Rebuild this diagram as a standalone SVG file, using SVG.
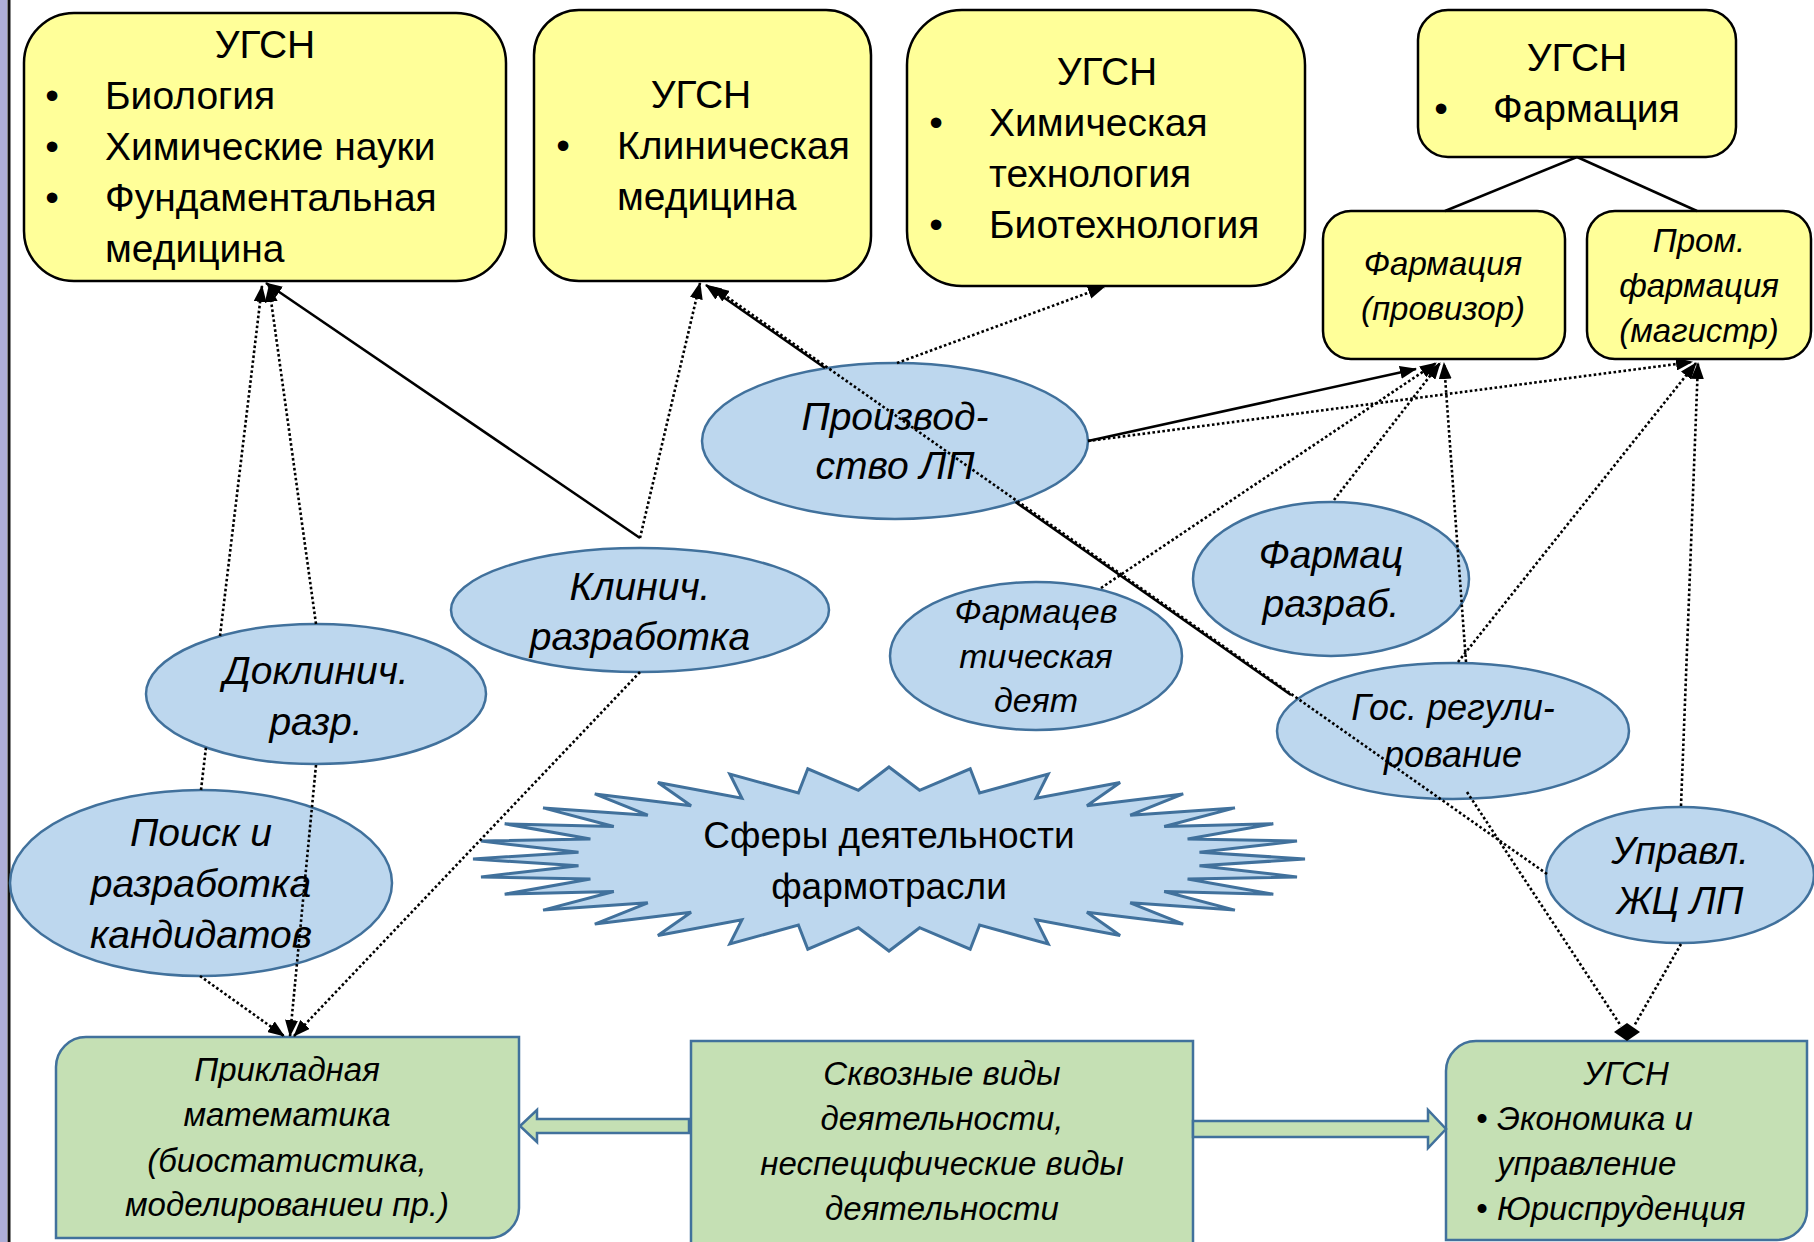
<svg xmlns="http://www.w3.org/2000/svg" width="1814" height="1242" viewBox="0 0 1814 1242">
<defs>
<marker id="arr" viewBox="0 0 17 13" refX="16" refY="6.5" markerWidth="17" markerHeight="13" markerUnits="userSpaceOnUse" orient="auto"><path d="M0,0 L17,6.5 L0,13 Z" fill="#000"/></marker>
<style>
.y{fill:#ffff99;stroke:#000;stroke-width:2.5}
.e{fill:#bdd7ee;stroke:#41719c;stroke-width:2.5}
.g{fill:#c5e0b4;stroke:#41719c;stroke-width:2.5}
text{font-family:"Liberation Sans",Arial,sans-serif;fill:#000}
.r39{font-size:39px}
.r37{font-size:37px}
.i39{font-size:39px;font-style:italic}
.i38{font-size:38px;font-style:italic}
.i36{font-size:36px;font-style:italic}
.i34{font-size:34px;font-style:italic}
.i33{font-size:33px;font-style:italic}
.c{text-anchor:middle}
.sol{stroke:#000;stroke-width:2.5;fill:none}
.dot{stroke:#000;stroke-width:2.6;stroke-dasharray:2.6 2.4;fill:none}
.ar{marker-end:url(#arr)}
</style>
</defs>
<rect x="0" y="0" width="1814" height="1242" fill="#fff"/>
<rect x="0" y="0" width="7" height="1242" fill="#adaed7"/>
<line x1="9" y1="0" x2="9" y2="1242" stroke="#111" stroke-width="3"/>

<g id="ugsn-bio">
<rect class="y" x="24" y="13" width="482" height="268" rx="50"/>
<text class="r39 c" x="265" y="58">УГСН</text>
<text class="r39 c" x="52" y="109">•</text><text class="r39" x="105" y="109">Биология</text>
<text class="r39 c" x="52" y="160">•</text><text class="r39" x="105" y="160">Химические науки</text>
<text class="r39 c" x="52" y="211">•</text><text class="r39" x="105" y="211">Фундаментальная</text>
<text class="r39" x="105" y="262">медицина</text>
</g>

<g id="ugsn-clin">
<rect class="y" x="534" y="10" width="337" height="271" rx="45"/>
<text class="r39 c" x="701" y="108">УГСН</text>
<text class="r39 c" x="563" y="159">•</text><text class="r39" x="617" y="159">Клиническая</text>
<text class="r39" x="617" y="210">медицина</text>
</g>

<g id="ugsn-chem">
<rect class="y" x="907" y="10" width="398" height="276" rx="55"/>
<text class="r39 c" x="1107" y="85">УГСН</text>
<text class="r39 c" x="936" y="136">•</text><text class="r39" x="989" y="136">Химическая</text>
<text class="r39" x="989" y="187">технология</text>
<text class="r39 c" x="936" y="238">•</text><text class="r39" x="989" y="238">Биотехнология</text>
</g>

<g id="ugsn-pharm">
<rect class="y" x="1418" y="10" width="318" height="147" rx="30"/>
<text class="r39 c" x="1577" y="71">УГСН</text>
<text class="r39 c" x="1441" y="122">•</text><text class="r39" x="1493" y="122">Фармация</text>
</g>

<g id="pharm-prov">
<rect class="y" x="1323" y="211" width="242" height="148" rx="28"/>
<text class="i33 c" x="1443" y="275">Фармация</text>
<text class="i33 c" x="1443" y="320">(провизор)</text>
</g>

<g id="pharm-prom">
<rect class="y" x="1587" y="211" width="224" height="148" rx="28"/>
<text class="i33 c" x="1699" y="252">Пром.</text>
<text class="i33 c" x="1699" y="297">фармация</text>
<text class="i33 c" x="1699" y="342">(магистр)</text>
</g>

<g id="center-star">
<polygon fill="#bdd7ee" stroke="#41719c" stroke-width="3" points="889,767 919.6,790.3 970.2,768.8 979.6,793 1048.2,774 1036.1,798.1 1120.1,782.5 1086.9,805.7 1183.2,793.9 1130.2,815.2 1234.9,807.9 1164.2,826.5 1273.3,823.8 1187.6,839 1297,841.1 1199.5,852.2 1305,859 1199.5,865.8 1297,876.9 1187.6,879 1273.3,894.2 1164.2,891.5 1234.9,910.1 1130.2,902.8 1183.2,924.1 1086.9,912.3 1120.1,935.5 1036.1,919.9 1048.2,944 979.6,925 970.2,949.2 919.6,927.7 889,951 858.4,927.7 807.8,949.2 798.4,925 729.8,944 741.9,919.9 657.9,935.5 691.1,912.3 594.8,924.1 647.8,902.8 543.1,910.1 613.8,891.5 504.7,894.2 590.4,879 481,876.9 578.5,865.8 473,859 578.5,852.2 481,841.1 590.4,839 504.7,823.8 613.8,826.5 543.1,807.9 647.8,815.2 594.8,793.9 691.1,805.7 657.9,782.5 741.9,798.1 729.8,774 798.4,793 807.8,768.8 858.4,790.3"/>
<text class="r37 c" x="889" y="848">Сферы деятельности</text>
<text class="r37 c" x="889" y="899">фармотрасли</text>
</g>

<g id="production">
<ellipse class="e" cx="895" cy="441" rx="193" ry="78"/>
<text class="i39 c" x="895" y="430">Производ-</text>
<text class="i39 c" x="895" y="479">ство ЛП</text>
</g>

<g id="clinical">
<ellipse class="e" cx="640" cy="610" rx="189" ry="62"/>
<text class="i39 c" x="640" y="600">Клинич.</text>
<text class="i39 c" x="640" y="650">разработка</text>
</g>

<g id="preclinical">
<ellipse class="e" cx="316" cy="694" rx="170" ry="70"/>
<text class="i39 c" x="316" y="684">Доклинич.</text>
<text class="i39 c" x="316" y="735">разр.</text>
</g>

<g id="search">
<ellipse class="e" cx="201" cy="883" rx="191" ry="93"/>
<text class="i39 c" x="201" y="846">Поиск и</text>
<text class="i39 c" x="201" y="897">разработка</text>
<text class="i39 c" x="201" y="948">кандидатов</text>
</g>

<g id="pharm-activity">
<ellipse class="e" cx="1036" cy="656" rx="146" ry="74"/>
<text class="i34 c" x="1036" y="623">Фармацев</text>
<text class="i34 c" x="1036" y="668">тическая</text>
<text class="i34 c" x="1036" y="712">деят</text>
</g>

<g id="pharm-dev">
<ellipse class="e" cx="1331" cy="579" rx="138" ry="77"/>
<text class="i39 c" x="1331" y="568">Фармац</text>
<text class="i39 c" x="1331" y="617">разраб.</text>
</g>

<g id="state-reg">
<ellipse class="e" cx="1453" cy="731" rx="176" ry="68"/>
<text class="i36 c" x="1453" y="720">Гос. регули-</text>
<text class="i36 c" x="1453" y="767">рование</text>
</g>

<g id="lifecycle">
<ellipse class="e" cx="1680" cy="875" rx="134" ry="68"/>
<text class="i38 c" x="1680" y="864">Управл.</text>
<text class="i38 c" x="1680" y="914">ЖЦ ЛП</text>
</g>

<g id="applied-math">
<path class="g" d="M86,1037 H519 V1208 A30,30 0 0 1 489,1238 H56 V1067 A30,30 0 0 1 86,1037 Z"/>
<text class="i33 c" x="287" y="1081">Прикладная</text>
<text class="i33 c" x="287" y="1126">математика</text>
<text class="i33 c" x="287" y="1172">(биостатистика,</text>
<text class="i33 c" x="287" y="1216">моделированиеи пр.)</text>
</g>

<g id="cross-cutting">
<rect class="g" x="691" y="1041" width="502" height="215"/>
<text class="i33 c" x="942" y="1085">Сквозные виды</text>
<text class="i33 c" x="942" y="1130">деятельности,</text>
<text class="i33 c" x="942" y="1175">неспецифические виды</text>
<text class="i33 c" x="942" y="1220">деятельности</text>
</g>

<g id="ugsn-econ">
<path class="g" d="M1476,1041 H1807 V1210 A30,30 0 0 1 1777,1240 H1446 V1071 A30,30 0 0 1 1476,1041 Z"/>
<text class="i33 c" x="1626" y="1085">УГСН</text>
<text class="i33" x="1476" y="1130">•</text><text class="i33" x="1497" y="1130">Экономика и</text>
<text class="i33" x="1497" y="1175">управление</text>
<text class="i33" x="1476" y="1220">•</text><text class="i33" x="1497" y="1220">Юриспруденция</text>
</g>

<g id="connectors">
<line class="sol" x1="1577" y1="157" x2="1445" y2="211"/>
<line class="sol" x1="1577" y1="157" x2="1697" y2="211"/>
<polygon class="g" points="689,1119 537,1119 537,1110 520,1126 537,1142 537,1133 689,1133"/>
<polygon class="g" points="1193,1121 1428,1121 1428,1110 1446,1129 1428,1148 1428,1137 1193,1137"/>
<line class="sol ar" x1="640" y1="538" x2="266" y2="283"/>
<line class="dot ar" x1="640" y1="538" x2="700" y2="283"/>
<line class="dot" x1="201" y1="790" x2="206" y2="747"/>
<line class="dot ar" x1="220" y1="636" x2="262" y2="286"/>
<line class="dot ar" x1="316" y1="624" x2="269" y2="286"/>
<line class="dot ar" x1="316" y1="765" x2="290" y2="1036"/>
<line class="dot ar" x1="200" y1="976" x2="284" y2="1036"/>
<line class="dot ar" x1="640" y1="672" x2="294" y2="1036"/>
<line class="dot ar" x1="897" y1="363" x2="1104" y2="287"/>
<line class="sol ar" x1="1088" y1="441" x2="1416" y2="369"/>
<line class="dot ar" x1="1088" y1="441" x2="1692" y2="362"/>
<line class="sol" x1="1291" y1="695" x2="1015.5" y2="502"/>
<line class="sol ar" x1="825" y1="368" x2="706" y2="285"/>
<line class="dot ar" x1="1547" y1="874" x2="713" y2="287"/>
<line class="dot ar" x1="1101" y1="588" x2="1436" y2="363"/>
<line class="dot ar" x1="1334" y1="500" x2="1440" y2="363"/>
<line class="dot ar" x1="1466" y1="662" x2="1444" y2="363"/>
<line class="dot ar" x1="1458" y1="662" x2="1696" y2="363"/>
<line class="dot ar" x1="1681" y1="806" x2="1698" y2="363"/>
<line class="dot" x1="1467" y1="792" x2="1621" y2="1026"/>
<line class="dot" x1="1681" y1="944" x2="1634" y2="1026"/>
<polygon points="1614,1032 1627,1023 1640,1032 1627,1041" fill="#000"/>
</g>
</svg>
